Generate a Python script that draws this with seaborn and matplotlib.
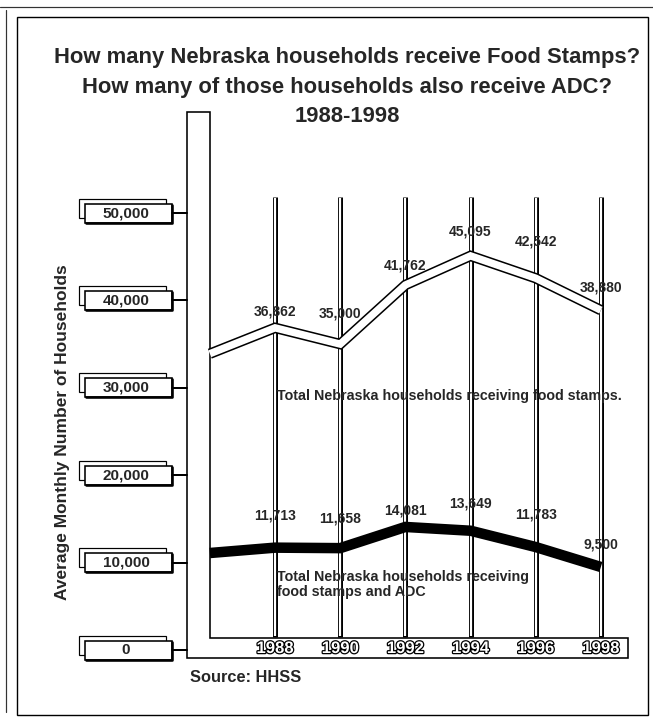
import matplotlib
matplotlib.use("Agg")
import matplotlib.pyplot as plt
import matplotlib.patheffects as pe
from matplotlib.patches import Rectangle, Polygon
from matplotlib.transforms import Affine2D
import pandas as pd
import seaborn as sns

# ---- data -------------------------------------------------------------
years = [1986, 1988, 1990, 1992, 1994, 1996, 1998]
food_stamps = [33900, 36862, 35000, 41762, 45095, 42542, 38880]
food_stamps_adc = [11100, 11713, 11658, 14081, 13649, 11783, 9500]
labeled_years = [1988, 1990, 1992, 1994, 1996, 1998]
y_ticks = [0, 10000, 20000, 30000, 40000, 50000]
y_tick_labels = ["0", "10,000", "20,000", "30,000", "40,000", "50,000"]

title_lines = [
    "How many Nebraska households receive Food Stamps?",
    "How many of those households also receive ADC?",
    "1988-1998",
]
fs_caption = "Total Nebraska households receiving food stamps."
adc_caption = ["Total Nebraska households receiving", "food stamps and ADC"]

# label lift above each point, in pixels
fs_label_lift = [16, 31, 20, 24, 37, 23]
adc_label_lift = [32, 30, 16, 27, 33, 22]

# ---- figure -----------------------------------------------------------
sns.set_theme(style="white")
plt.rcParams["font.family"] = ["Liberation Sans", "DejaVu Sans"]
plt.rcParams["font.weight"] = "bold"

W, H = 653, 721
fig = plt.figure(figsize=(W / 100, H / 100), dpi=100)
fig.patch.set_facecolor("white")
ax = fig.add_axes([0, 0, 1, 1])
ax.set_xlim(1979.56, 1999.6)
ax.set_ylim(-8120, 74370)
ax.axis("off")

# pixel coordinates measured from the top-left corner
px = Affine2D().scale(1 / W, -1 / H).translate(0, 1) + fig.transFigure


def to_px(x, y):
    dx, dy = ax.transData.transform((x, y))
    return dx, H - dy


LW = 72 / 100  # points per pixel

# page frames
ax.add_patch(Rectangle((17, 17), 631, 698, transform=px, fill=False,
                       ec="black", lw=1.4 * LW, zorder=1))
ax.plot([0, 653], [7, 7], transform=px, color="#333333", lw=1.2 * LW)
ax.plot([6, 6], [10, 712], transform=px, color="#333333", lw=1.2 * LW)

# left wall and floor strip
ax.add_patch(Polygon([(187, 112), (210, 112), (210, 638), (628, 638),
                      (628, 658), (187, 658)], closed=True, transform=px,
                     fc="white", ec="black", lw=1.6 * LW, zorder=2))

# vertical year posts
for yr in labeled_years:
    x0, _ = to_px(yr, 0)
    ax.plot([x0, x0], [197, 637], transform=px, color="black",
            lw=5 * LW, solid_capstyle="butt", zorder=3)
    ax.plot([x0, x0], [198, 636], transform=px, color="white",
            lw=2.2 * LW, solid_capstyle="butt", zorder=3)

# food stamps ribbon (outlined white band)
df = pd.DataFrame({"year": years, "fs": food_stamps, "adc": food_stamps_adc})
sns.lineplot(data=df, x="year", y="fs", ax=ax, color="black",
             linewidth=10.5 * LW, solid_capstyle="butt",
             solid_joinstyle="miter", zorder=5, legend=False)
sns.lineplot(data=df, x="year", y="fs", ax=ax, color="white",
             linewidth=7.4 * LW, solid_capstyle="butt",
             solid_joinstyle="miter", zorder=6, legend=False)
# food stamps + ADC band (solid black)
sns.lineplot(data=df, x="year", y="adc", ax=ax, color="black",
             linewidth=10.5 * LW, solid_capstyle="butt",
             solid_joinstyle="miter", zorder=5, legend=False)

for yr, v, lift in zip(years[1:], food_stamps[1:], fs_label_lift):
    ax.annotate(f"{v:,}", (yr, v), xytext=(0, lift), textcoords="offset pixels",
                ha="center", va="center", fontsize=10, fontweight="bold",
                zorder=7)
for yr, v, lift in zip(years[1:], food_stamps_adc[1:], adc_label_lift):
    ax.annotate(f"{v:,}", (yr, v), xytext=(0, lift), textcoords="offset pixels",
                ha="center", va="center", fontsize=10, fontweight="bold",
                zorder=7)

# captions
ax.text(277, 396, fs_caption, transform=px, ha="left", va="center",
        fontsize=10.3, fontweight="bold", zorder=7)
ax.text(277, 577, adc_caption[0], transform=px, ha="left", va="center",
        fontsize=10.3, fontweight="bold", zorder=7)
ax.text(277, 592, adc_caption[1], transform=px, ha="left", va="center",
        fontsize=10.3, fontweight="bold", zorder=7)

# y-axis value tabs
for v, lab in zip(y_ticks, y_tick_labels):
    _, py = to_px(1988, v)
    ax.add_patch(Rectangle((79, py - 14.5), 87, 19, transform=px,
                           fc="white", ec="black", lw=1.2 * LW, zorder=2))
    ax.add_patch(Rectangle((85, py - 9.5), 87, 19, transform=px,
                           fc="white", ec="black", lw=1.6 * LW, zorder=3))
    ax.plot([86, 172, 172], [py + 9.5, py + 9.5, py - 8.5], transform=px,
            color="black", lw=2.6 * LW, zorder=3)
    ax.plot([172, 187], [py, py], transform=px, color="black",
            lw=2 * LW, zorder=3)
    ax.text(126, py, lab, transform=px, ha="center", va="center",
            fontsize=11, fontweight="bold", zorder=4)

# x-axis year labels on the floor strip
for yr in labeled_years:
    x0, _ = to_px(yr, 0)
    ax.text(x0, 648.5, str(yr), transform=px, ha="center", va="center",
            fontsize=12, fontweight="bold", color="white", zorder=4,
            path_effects=[pe.withStroke(linewidth=1.8, foreground="black")])

# titles
for text, y in zip(title_lines, [57, 87, 116]):
    ax.text(347, y, text, transform=px, ha="center", va="center",
            fontsize=15.8, fontweight="bold", zorder=4)

ax.text(63, 432, "Average Monthly Number of Households", transform=px,
        rotation=90, ha="center", va="center", fontsize=12.5,
        fontweight="bold")
ax.text(190, 677, "Source: HHSS", transform=px, ha="left", va="center",
        fontsize=11.8, fontweight="bold")

fig.savefig("out.png", dpi=100, facecolor="white")
